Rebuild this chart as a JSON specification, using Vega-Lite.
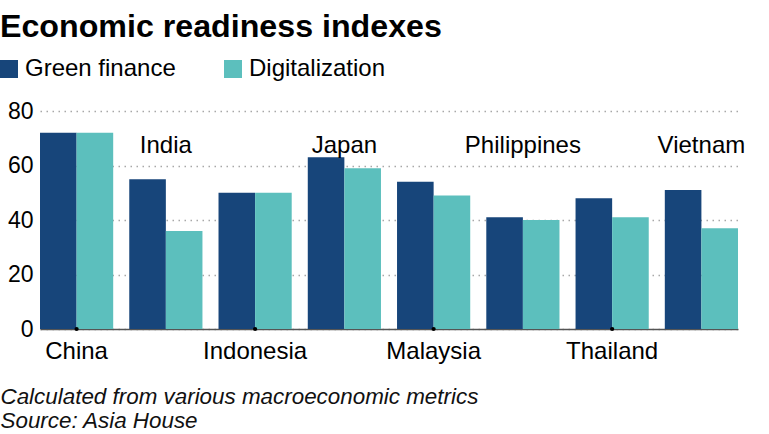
{
  "$schema": "https://vega.github.io/schema/vega-lite/v6.json",
  "width": 698,
  "height": 218,
  "autosize": "none",
  "padding": {"left": 40, "top": 111, "right": 31, "bottom": 105},
  "background": "white",
  "config": {"font": "Liberation Sans", "view": {"stroke": null}},
  "title": {
    "text": "Economic readiness indexes",
    "fontSize": 32.2,
    "fontWeight": "bold",
    "color": "#000000",
    "anchor": "start",
    "frame": "group",
    "dx": -40,
    "baseline": "alphabetic",
    "offset": -12
  },
  "data": {
    "values": [
      {"country": "China", "series": "Green finance", "value": 72},
      {"country": "China", "series": "Digitalization", "value": 72},
      {"country": "India", "series": "Green finance", "value": 55},
      {"country": "India", "series": "Digitalization", "value": 36},
      {"country": "Indonesia", "series": "Green finance", "value": 50},
      {"country": "Indonesia", "series": "Digitalization", "value": 50},
      {"country": "Japan", "series": "Green finance", "value": 63},
      {"country": "Japan", "series": "Digitalization", "value": 59},
      {"country": "Malaysia", "series": "Green finance", "value": 54},
      {"country": "Malaysia", "series": "Digitalization", "value": 49},
      {"country": "Philippines", "series": "Green finance", "value": 41},
      {"country": "Philippines", "series": "Digitalization", "value": 40},
      {"country": "Thailand", "series": "Green finance", "value": 48},
      {"country": "Thailand", "series": "Digitalization", "value": 41},
      {"country": "Vietnam", "series": "Green finance", "value": 51},
      {"country": "Vietnam", "series": "Digitalization", "value": 37}
    ]
  },
  "encoding": {
    "x": {
      "field": "country",
      "type": "nominal",
      "sort": null,
      "scale": {"paddingInner": 0.18, "paddingOuter": 0},
      "axis": {
        "labelExpr": "indexof(['China','Indonesia','Malaysia','Thailand'], datum.value) >= 0 ? datum.value : ''",
        "labelAngle": 0,
        "labelFontSize": 24,
        "labelColor": "#000000",
        "labelPadding": 10,
        "ticks": false,
        "domainColor": "#555555",
        "domainWidth": 1.5,
        "title": ["Calculated from various macroeconomic metrics", "Source: Asia House"],
        "titleFontSize": 22.4,
        "titleFontStyle": "italic",
        "titleFontWeight": "normal",
        "titleColor": "#111111",
        "titleAnchor": "start",
        "titleAlign": "left",
        "titleBaseline": "alphabetic",
        "titleX": -40,
        "titleY": 74,
        "titleLineHeight": 24.5
      }
    }
  },
  "layer": [
    {
      "mark": {"type": "bar"},
      "encoding": {
        "xOffset": {"field": "series", "type": "nominal", "sort": ["Green finance", "Digitalization"]},
        "y": {
          "field": "value",
          "type": "quantitative",
          "scale": {"domain": [0, 80]},
          "axis": {
            "values": [0, 20, 40, 60, 80],
            "title": null,
            "ticks": false,
            "domain": false,
            "labelFontSize": 23,
            "labelColor": "#000000",
            "labelPadding": 7,
            "grid": true,
            "gridDash": [1.5, 4.5],
            "gridColor": "#a8a8a8",
            "gridWidth": 1.5
          }
        },
        "color": {
          "field": "series",
          "type": "nominal",
          "sort": ["Green finance", "Digitalization"],
          "scale": {"domain": ["Green finance", "Digitalization"], "range": ["#17457a", "#5cbfbd"]},
          "legend": {
            "title": null,
            "orient": "none",
            "legendX": -43,
            "legendY": -54,
            "direction": "horizontal",
            "symbolType": "square",
            "symbolSize": 324,
            "symbolOpacity": 1,
            "symbolStrokeWidth": 0,
            "labelFontSize": 24,
            "labelColor": "#000000",
            "labelOffset": 4,
            "columnPadding": 45
          }
        }
      }
    },
    {
      "transform": [
        {"filter": "datum.series == 'Green finance' && indexof(['India','Japan','Philippines','Vietnam'], datum.country) >= 0"}
      ],
      "mark": {"type": "text", "fontSize": 24, "color": "#000000", "baseline": "middle", "align": "center"},
      "encoding": {
        "y": {"datum": 67, "type": "quantitative"},
        "text": {"field": "country"}
      }
    },
    {
      "transform": [
        {"filter": "datum.series == 'Green finance' && indexof(['China','Indonesia','Malaysia','Thailand'], datum.country) >= 0"}
      ],
      "mark": {"type": "point", "filled": true, "shape": "circle", "size": 18, "color": "#000000", "opacity": 1},
      "encoding": {
        "y": {"datum": 0, "type": "quantitative"}
      }
    }
  ]
}
